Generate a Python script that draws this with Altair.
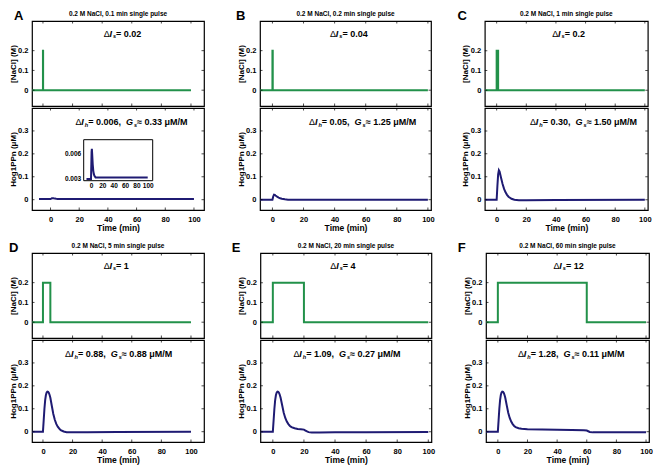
import altair as alt
import pandas as pd

FONT = "Liberation Sans"
GREEN = "#22914a"
NAVY = "#1f1b73"

# ---------------- data ----------------
panel_letters = ["A", "B", "C", "D", "E", "F"]
panel_titles = [
    "0.2 M NaCl, 0.1 min single pulse",
    "0.2 M NaCl, 0.2 min single pulse",
    "0.2 M NaCl, 1 min single pulse",
    "0.2 M NaCl, 5 min single pulse",
    "0.2 M NaCl, 20 min single pulse",
    "0.2 M NaCl, 60 min single pulse",
]
pulse_minutes = [0.1, 0.2, 1, 5, 20, 60]
nacl_dose = 0.2
time_start = -8
time_end = 100

delta_Is = ["0.02", "0.04", "0.2", "1", "4", "12"]
delta_Ih = ["0.006", "0.05", "0.30", "0.88", "1.09", "1.28"]
gain_Gs = ["0.33", "1.25", "1.50", "0.88", "0.27", "0.11"]

hog_time_A = [-8, 0, 0.5, 1, 1.5, 2, 3, 4, 5, 6, 8, 10, 20, 100]
hog_val_A = [0.0029, 0.0029, 0.0045, 0.0062, 0.0066, 0.006, 0.0047, 0.0039,
             0.0035, 0.0033, 0.0031, 0.0031, 0.0031, 0.0031]

hog_time_B = [-8, 0, 0.5, 1, 1.5, 2, 3, 4, 5, 6, 8, 10, 15, 100]
hog_val_B = [0, 0, 0.014, 0.022, 0.021, 0.018, 0.013, 0.009, 0.006, 0.004,
             0.0015, 0.0, -0.0005, 0]

hog_time_C = [-8, 0, 0.5, 1, 1.5, 2, 3, 4, 5, 6, 7, 8, 10, 12, 15, 20, 40, 100]
hog_val_C = [0, 0, 0.06, 0.11, 0.128, 0.122, 0.095, 0.068, 0.047, 0.032,
             0.021, 0.013, 0.004, 0.0, -0.002, -0.002, -0.001, 0]

hog_time_D = [-8, 0, 0.5, 1, 1.5, 2, 2.5, 3, 3.5, 4, 4.5, 5, 6, 7, 8, 9, 10,
              11, 12, 14, 16, 20, 30, 50, 100]
hog_val_D = [0, 0, 0.05, 0.10, 0.138, 0.16, 0.171, 0.175, 0.174, 0.169, 0.16,
             0.148, 0.112, 0.077, 0.052, 0.034, 0.022, 0.013, 0.007, 0.001,
             -0.002, -0.003, -0.002, -0.001, 0]

hog_time_E = [-8, 0, 0.5, 1, 1.5, 2, 2.5, 3, 3.5, 4, 4.5, 5, 6, 7, 8, 9, 10,
              11, 12, 14, 16, 18, 20, 21, 22, 23, 25, 30, 40, 60, 100]
hog_val_E = [0, 0, 0.05, 0.10, 0.138, 0.16, 0.171, 0.175, 0.174, 0.169, 0.16,
             0.148, 0.115, 0.083, 0.06, 0.044, 0.033, 0.025, 0.02, 0.015,
             0.012, 0.011, 0.009, 0.005, 0.001, -0.002, -0.004, -0.004,
             -0.003, -0.002, -0.001]

hog_time_F = [-8, 0, 0.5, 1, 1.5, 2, 2.5, 3, 3.5, 4, 4.5, 5, 6, 7, 8, 9, 10,
              11, 12, 14, 16, 20, 30, 40, 50, 58, 60, 61, 62, 64, 70, 80, 100]
hog_val_F = [0, 0, 0.05, 0.10, 0.138, 0.16, 0.171, 0.175, 0.174, 0.169, 0.16,
             0.148, 0.115, 0.083, 0.06, 0.044, 0.033, 0.025, 0.02, 0.015,
             0.013, 0.011, 0.009, 0.008, 0.007, 0.006, 0.005, 0.002, -0.001,
             -0.003, -0.003, -0.002, -0.002]

hog_times = [hog_time_A, hog_time_B, hog_time_C, hog_time_D, hog_time_E, hog_time_F]
hog_vals = [hog_val_A, hog_val_B, hog_val_C, hog_val_D, hog_val_E, hog_val_F]

time_ticks = [0, 20, 40, 60, 80, 100]
nacl_ticks = [0, 0.1, 0.2]
hog_ticks = [0, 0.1, 0.2, 0.3]
inset_hog_ticks = [0.003, 0.006]

# ---------------- layout ----------------
COL_W = [172, 171, 163]
TOP_H = 85
BOT_H = 102
X_DOM = [[-7.4, 108.8], [-8, 102], [-8, 102]]
X_DOM_A_BOTTOM = [-12.9, 107]
Y_DOM_TOP = [-0.08, 0.35]
Y_DOM_BOT = [-0.045, 0.4]
INSET_X_DOM = [-12.9, 108.8]
INSET_Y_DOM = [0.0027, 0.0077]
INSET_X_RANGE = [51.7, 120.7]
INSET_Y_RANGE = [72.7, 31.7]
LETTER_X = [-13.2, -19.3, -22.6, -18.3, -24.3, -24.2]
TITLE_Y = -6.6
ANN_TOP_X = [41, 37, 37.5, 41, 37, 37.5]
ANN_TOP_Y = 0.285
ANN_BOT_X = [57.4, 58.9, 59.6, 52.1, 48.6, 50.6]
ANN_BOT_Y = 0.338
ROW_SPACING = [(30, 21.8), (25.4, 21.6)]
V_SPACING = 7

ONE = pd.DataFrame({"k": [0]})

EM = {' ': 0.278, '=': 0.584, '.': 0.278, ',': 0.278, 'μ': 0.611, 'M': 0.833,
      '/': 0.278, '≈': 0.584, 'Δ': 0.65, 'I': 0.278, 'G': 0.778, 's': 0.556,
      'h': 0.611}


def text_w(s, size):
    return sum(EM.get(ch, 0.556) for ch in s) * size


def y_axis(title, values):
    return alt.Axis(values=values, format="~g", title=title, domain=False,
                    ticks=False, grid=False, labelFont=FONT,
                    labelFontWeight="bold", labelFontSize=7.5,
                    labelColor="black", titleFont=FONT,
                    titleFontWeight="bold", titleFontSize=8,
                    titleColor="black", labelPadding=4, titlePadding=1,
                    minExtent=14, maxExtent=14)


def x_axis():
    return alt.Axis(values=time_ticks, format="d", title="Time (min)",
                    domain=False, ticks=False, grid=False, labelFont=FONT,
                    labelFontWeight="bold", labelFontSize=7.5,
                    labelColor="black", titleFont=FONT,
                    titleFontWeight="bold", titleFontSize=8.5,
                    titleColor="black", labelPadding=5, titlePadding=1)


def frame_ticks(xs, ys, yvals, W, H, xax, yax):
    xdf = pd.DataFrame({"t": time_ticks})
    ydf = pd.DataFrame({"v": yvals})
    tk = dict(color="black", size=5, thickness=1, clip=True)
    ex = alt.X("t:Q", scale=xs, axis=xax)
    ey = alt.Y("v:Q", scale=ys, axis=yax)
    return [
        alt.Chart(xdf).mark_tick(**tk).encode(x=ex, y=alt.value(0)),
        alt.Chart(xdf).mark_tick(**tk).encode(x=ex, y=alt.value(H)),
        alt.Chart(ydf).mark_tick(**tk).encode(y=ey, x=alt.value(0)),
        alt.Chart(ydf).mark_tick(**tk).encode(y=ey, x=alt.value(W)),
    ]


def annotation(parts, xd, yd, size, centered, xax, yax):
    widths = []
    for txt, st in parts:
        sz = size * 0.62 if st == "sub" else size
        widths.append(text_w(txt, sz) + (1.0 if st == "ital" else 0))
    off = -sum(widths) / 2 if centered else 0
    layers = []
    for (txt, st), w in zip(parts, widths):
        props = dict(text=txt, font=FONT, fontSize=size, fontWeight="bold",
                     color="black", align="left", baseline="middle", dx=off)
        if st == "sym":
            props["fontWeight"] = "normal"
        if st == "ital":
            props["fontStyle"] = "italic"
        if st == "sub":
            props.update(fontStyle="italic", fontSize=size * 0.62, dy=2.5)
        layers.append(alt.Chart(ONE).mark_text(**props).encode(
            x=alt.XDatum(xd, axis=xax), y=alt.YDatum(yd, axis=yax)))
        off += w
    return layers


def top_chart(i):
    c = i % 3
    W = COL_W[c]
    xs = alt.Scale(domain=X_DOM[c], nice=False, zero=False)
    ys = alt.Scale(domain=Y_DOM_TOP, nice=False, zero=False)
    yax = y_axis("[NaCl] (M)", nacl_ticks)
    d = pulse_minutes[i]
    df = pd.DataFrame({"t": [time_start, 0, 0, d, d, time_end],
                       "v": [0, 0, nacl_dose, nacl_dose, 0, 0],
                       "i": list(range(6))})
    line = alt.Chart(df).mark_line(color=GREEN, strokeWidth=2, clip=True).encode(
        x=alt.X("t:Q", scale=xs, axis=None),
        y=alt.Y("v:Q", scale=ys, axis=yax),
        order="i:Q")
    parts = [("Δ", "sym"), ("I", "ital"), ("s", "sub"), (" = " + delta_Is[i], "bold")]
    letter = alt.Chart(ONE).mark_text(
        text=panel_letters[i], font=FONT, fontSize=13, fontWeight="bold",
        align="center", baseline="alphabetic", color="black").encode(
        x=alt.value(LETTER_X[i]), y=alt.value(-1.5))
    title = alt.Chart(ONE).mark_text(
        text=panel_titles[i], font=FONT, fontSize=6.5, fontWeight="bold",
        align="center", baseline="middle", color="black").encode(
        x=alt.value(W / 2), y=alt.value(TITLE_Y))
    layers = [line] + frame_ticks(xs, ys, nacl_ticks, W, TOP_H, None, yax) + \
        annotation(parts, ANN_TOP_X[i], ANN_TOP_Y, 9, False, None, yax) + [letter, title]
    return alt.layer(*layers).properties(width=W, height=TOP_H)


def bottom_chart(i):
    c = i % 3
    W = COL_W[c]
    xdom = X_DOM_A_BOTTOM if i == 0 else X_DOM[c]
    xs = alt.Scale(domain=xdom, nice=False, zero=False)
    ys = alt.Scale(domain=Y_DOM_BOT, nice=False, zero=False)
    xax = x_axis()
    yax = y_axis("Hog1PPn (μM)", hog_ticks)
    df = pd.DataFrame({"t": hog_times[i], "v": hog_vals[i],
                       "i": list(range(len(hog_times[i])))})
    line = alt.Chart(df).mark_line(color=NAVY, strokeWidth=2, clip=True).encode(
        x=alt.X("t:Q", scale=xs, axis=xax),
        y=alt.Y("v:Q", scale=ys, axis=yax),
        order="i:Q")
    parts = [("Δ", "sym"), ("I", "ital"), ("h", "sub"),
             (" = " + delta_Ih[i] + ", ", "bold"), ("G", "ital"), ("s", "sub"),
             (" ≈ " + gain_Gs[i] + " μM/M", "bold")]
    main = alt.layer(line, *frame_ticks(xs, ys, hog_ticks, W, BOT_H, xax, yax),
                     *annotation(parts, ANN_BOT_X[i], ANN_BOT_Y, 9, True, xax, yax))
    if i != 0:
        return main.properties(width=W, height=BOT_H)
    ixs = alt.Scale(domain=INSET_X_DOM, range=INSET_X_RANGE, nice=False, zero=False)
    iys = alt.Scale(domain=INSET_Y_DOM, range=INSET_Y_RANGE, nice=False, zero=False)
    ixax = alt.Axis(orient="bottom", offset=-(BOT_H - INSET_Y_RANGE[0]),
                    values=time_ticks, format="d", title=None,
                    domain=False, ticks=False, grid=False,
                    labelFont=FONT, labelFontWeight="bold",
                    labelFontSize=6.5, labelColor="black", labelPadding=2)
    iyax = alt.Axis(orient="left", offset=-INSET_X_RANGE[0],
                    values=inset_hog_ticks, format="~g", title=None,
                    domain=False, ticks=False, grid=False,
                    labelFont=FONT, labelFontWeight="bold",
                    labelFontSize=6.5, labelColor="black", labelPadding=3)
    box = alt.Chart(ONE).mark_rect(fill="white", stroke="black", strokeWidth=1).encode(
        x=alt.XDatum(INSET_X_DOM[0], scale=ixs, axis=ixax),
        x2=alt.X2Datum(INSET_X_DOM[1]),
        y=alt.YDatum(INSET_Y_DOM[0], scale=iys, axis=iyax),
        y2=alt.Y2Datum(INSET_Y_DOM[1]))
    iline = alt.Chart(df).mark_line(color=NAVY, strokeWidth=2, clip=True).encode(
        x=alt.X("t:Q", scale=ixs, axis=ixax),
        y=alt.Y("v:Q", scale=iys, axis=iyax),
        order="i:Q")
    inset = alt.layer(box, iline)
    return alt.layer(main, inset).resolve_scale(
        x="independent", y="independent").resolve_axis(
        x="independent", y="independent").properties(width=W, height=BOT_H)


def panel(i):
    return alt.vconcat(top_chart(i), bottom_chart(i), spacing=0)


rows = []
for r in range(2):
    s1, s2 = ROW_SPACING[r]
    rows.append(alt.hconcat(panel(3 * r),
                            alt.hconcat(panel(3 * r + 1), panel(3 * r + 2), spacing=s2),
                            spacing=s1))

chart = alt.vconcat(rows[0], rows[1], spacing=V_SPACING).properties(
    padding={"left": 0, "top": 0, "right": 0, "bottom": 0},
    background="white",
).configure(
    font=FONT,
    view=alt.ViewConfig(stroke="black", strokeWidth=1.2),
)

chart.save("out.html", embed_options={"renderer": "svg", "actions": False})
